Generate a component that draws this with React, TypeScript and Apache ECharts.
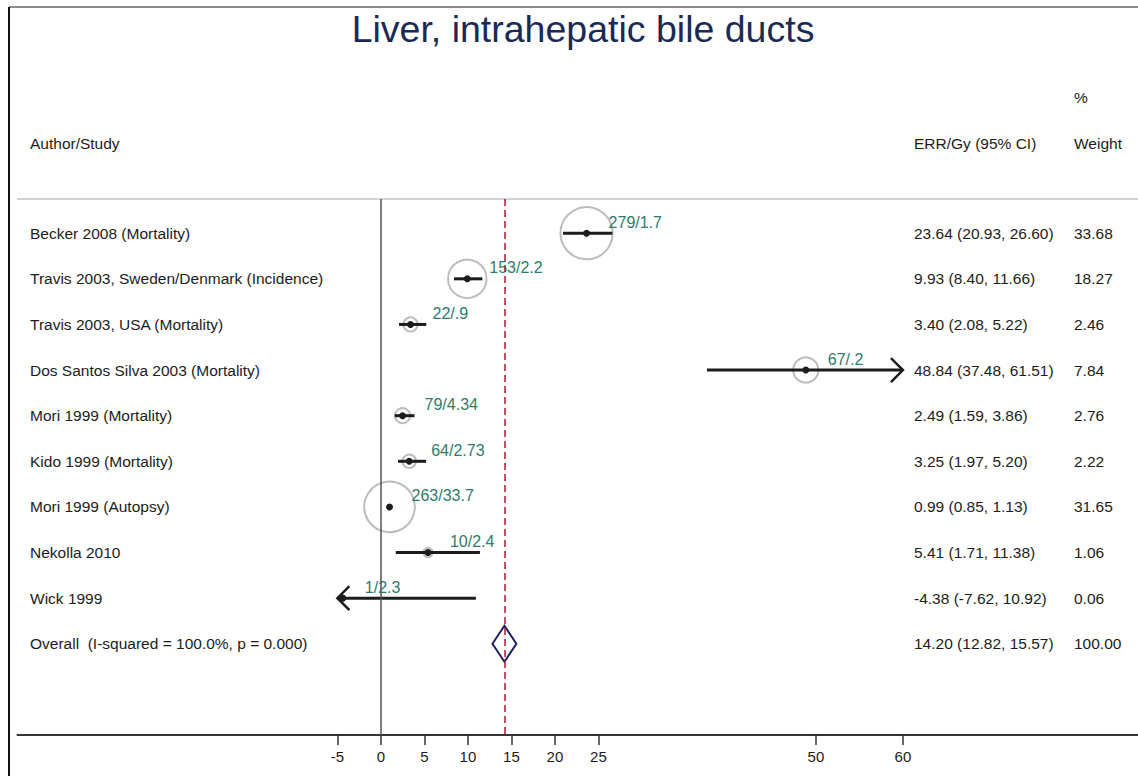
import React, { useEffect, useRef } from "react";
import * as echarts from "echarts";

// Study rows of the forest plot
const studies = [
  "Becker 2008 (Mortality)",
  "Travis 2003, Sweden/Denmark (Incidence)",
  "Travis 2003, USA (Mortality)",
  "Dos Santos Silva 2003 (Mortality)",
  "Mori 1999 (Mortality)",
  "Kido 1999 (Mortality)",
  "Mori 1999 (Autopsy)",
  "Nekolla 2010",
  "Wick 1999",
];
const estimates = [23.64, 9.93, 3.4, 48.84, 2.49, 3.25, 0.99, 5.41, -4.38];
const lowerCI = [20.93, 8.4, 2.08, 37.48, 1.59, 1.97, 0.85, 1.71, -7.62];
const upperCI = [26.6, 11.66, 5.22, 61.51, 3.86, 5.2, 1.13, 11.38, 10.92];
const weights = [33.68, 18.27, 2.46, 7.84, 2.76, 2.22, 31.65, 1.06, 0.06];
const caseLabels = ["279/1.7", "153/2.2", "22/.9", "67/.2", "79/4.34", "64/2.73", "263/33.7", "10/2.4", "1/2.3"];

// Pooled estimate
const overallLabel = "Overall\u00a0 (I-squared = 100.0%, p = 0.000)";
const overallEstimate = 14.2;
const overallLower = 12.82;
const overallUpper = 15.57;
const overallWeight = 100;

// Axis ticks and the range inside which CIs are drawn (arrows beyond it)
const xTicks = [-5, 0, 5, 10, 15, 20, 25, 50, 60];
const clipLow = -5;
const clipHigh = 60;

const FONT = "'Liberation Sans', Arial, Helvetica, sans-serif";
const INK = "#1c1c1c";
const TEAL = "#2e7b6e";
const TEXT_SIZE = 15.5;
const COL_STUDY_X = 30;
const COL_CI_X = 914;
const COL_WEIGHT_X = 1074;

const fmtCI = (e: number, l: number, u: number) =>
  `${e.toFixed(2)} (${l.toFixed(2)}, ${u.toFixed(2)})`;

const rowText = (x: number, y: number, text: string, fill = INK, size = TEXT_SIZE) => ({
  type: "text",
  x,
  y,
  style: { text, fill, fontSize: size, fontFamily: FONT, align: "left", verticalAlign: "middle" },
});

export default function App() {
  const ref = useRef<HTMLDivElement>(null);

  useEffect(() => {
    if (!ref.current) return;
    const chart = echarts.init(ref.current, null, { renderer: "svg" });

    const studyData = studies.map((_, i) => [estimates[i], i, lowerCI[i], upperCI[i], weights[i]]);
    const overallData = [[overallEstimate, studies.length, overallLower, overallUpper, overallWeight]];

    const renderStudy = (params: any, api: any) => {
      const i = params.dataIndex;
      const est = api.value(0);
      const row = api.value(1);
      const lo = api.value(2);
      const hi = api.value(3);
      const w = api.value(4);
      const [xe, y] = api.coord([est, row]);
      const xl = api.coord([Math.max(lo, clipLow), row])[0];
      const xh = api.coord([Math.min(hi, clipHigh), row])[0];
      const children: any[] = [];
      // weight circle, area proportional to the study weight
      children.push({
        type: "circle",
        shape: { cx: xe, cy: y, r: 4.5 * Math.sqrt(w) },
        style: { fill: "none", stroke: "#bdbdbd", lineWidth: 2 },
      });
      children.push({
        type: "line",
        shape: { x1: xl, y1: y, x2: xh, y2: y },
        style: { stroke: INK, lineWidth: 3 },
      });
      if (lo < clipLow) {
        children.push({
          type: "polyline",
          shape: { points: [[xl + 12, y - 12], [xl, y], [xl + 12, y + 12]] },
          style: { stroke: INK, lineWidth: 2.5, fill: null },
        });
      }
      if (hi > clipHigh) {
        children.push({
          type: "polyline",
          shape: { points: [[xh - 12, y - 12], [xh, y], [xh - 12, y + 12]] },
          style: { stroke: INK, lineWidth: 2.5, fill: null },
        });
      }
      children.push({
        type: "circle",
        shape: { cx: xe, cy: y, r: 3.5 },
        style: { fill: INK },
      });
      children.push(rowText(xe + 22, y - 11, caseLabels[i], TEAL, 16));
      children.push(rowText(COL_STUDY_X, y, studies[i]));
      children.push(rowText(COL_CI_X, y, fmtCI(est, lo, hi)));
      children.push(rowText(COL_WEIGHT_X, y, w.toFixed(2)));
      return { type: "group", children };
    };

    const renderOverall = (params: any, api: any) => {
      const est = api.value(0);
      const row = api.value(1);
      const lo = api.value(2);
      const hi = api.value(3);
      const w = api.value(4);
      const [xe, y] = api.coord([est, row]);
      const xl = api.coord([lo, row])[0];
      const xh = api.coord([hi, row])[0];
      return {
        type: "group",
        children: [
          {
            type: "polygon",
            shape: { points: [[xl, y], [xe, y - 18], [xh, y], [xe, y + 18]] },
            style: { fill: "none", stroke: "#1f2060", lineWidth: 2 },
          },
          rowText(COL_STUDY_X, y, overallLabel),
          rowText(COL_CI_X, y, fmtCI(est, lo, hi)),
          rowText(COL_WEIGHT_X, y, w.toFixed(2)),
        ],
      };
    };

    const header = (x: number, y: number, text: string) => ({
      type: "text",
      x,
      y,
      style: { text, fill: INK, fontSize: TEXT_SIZE, fontFamily: FONT, align: "left", verticalAlign: "middle" },
    });

    chart.setOption({
      animation: false,
      backgroundColor: "#ffffff",
      grid: { left: 17.5, right: 0, top: 199, bottom: 41, outerBoundsMode: "none" },
      xAxis: [
        {
          type: "value",
          min: -41.77,
          max: 87.02,
          position: "bottom",
          splitLine: { show: false },
          axisLine: { show: true, onZero: false, lineStyle: { color: "#333333", width: 2 } },
          axisTick: { show: true, length: 10, customValues: xTicks, lineStyle: { color: "#333333", width: 1.5 } },
          axisLabel: {
            show: true,
            customValues: xTicks,
            margin: 14,
            fontSize: 15,
            fontFamily: FONT,
            color: INK,
            formatter: (v: number) => String(v),
          },
        },
        {
          type: "value",
          min: -41.77,
          max: 87.02,
          position: "top",
          splitLine: { show: false },
          axisLine: { show: true, onZero: false, lineStyle: { color: "#c4c4c4", width: 1.5 } },
          axisTick: { show: false },
          axisLabel: { show: false },
        },
      ],
      yAxis: {
        type: "value",
        inverse: true,
        min: -0.75,
        max: 11,
        show: false,
        splitLine: { show: false },
      },
      graphic: [
        {
          type: "line",
          shape: { x1: 9, y1: 7, x2: 1138, y2: 7 },
          style: { stroke: "#8c8c8c", lineWidth: 2 },
        },
        {
          type: "line",
          shape: { x1: 9, y1: 7, x2: 9, y2: 776 },
          style: { stroke: "#111111", lineWidth: 2 },
        },
        {
          type: "text",
          x: 583,
          y: 29,
          style: {
            text: "Liver, intrahepatic bile ducts",
            fill: "#1b2a55",
            fontSize: 37.5,
            fontFamily: FONT,
            align: "center",
            verticalAlign: "middle",
          },
        },
        header(COL_STUDY_X, 143, "Author/Study"),
        header(COL_CI_X, 143, "ERR/Gy (95% CI)"),
        header(COL_WEIGHT_X, 97, "%"),
        header(COL_WEIGHT_X, 143, "Weight"),
      ],
      series: [
        {
          type: "custom",
          name: "overall",
          xAxisIndex: 0,
          renderItem: renderOverall,
          data: overallData,
          silent: true,
          markLine: {
            silent: true,
            symbol: ["none", "none"],
            label: { show: false },
            data: [
              { xAxis: 0, lineStyle: { color: "#555555", type: "solid", width: 1.5 } },
              { xAxis: overallEstimate, lineStyle: { color: "#b0182e", type: [7, 4], width: 1.5 } },
            ],
          },
        },
        {
          type: "custom",
          name: "studies",
          xAxisIndex: 0,
          renderItem: renderStudy,
          data: studyData,
          silent: true,
        },
      ],
    });

    return () => chart.dispose();
  }, []);

  return (
    <div
      ref={ref}
      style={{ position: "absolute", left: 0, top: 0, width: 1138, height: 776, background: "#fff" }}
    />
  );
}
